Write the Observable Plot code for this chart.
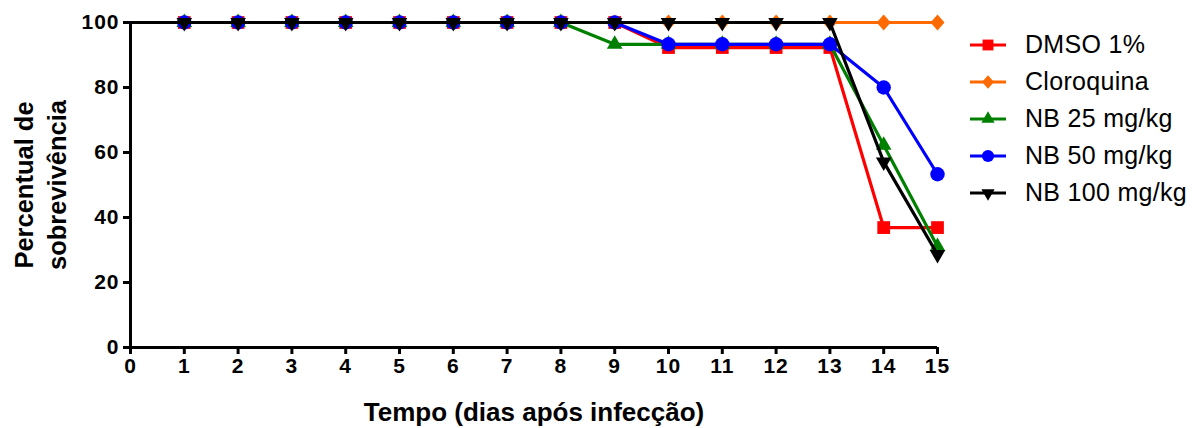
<!DOCTYPE html>
<html><head><meta charset="utf-8">
<script src="https://cdn.jsdelivr.net/npm/d3@7"></script>
<script src="https://cdn.jsdelivr.net/npm/@observablehq/plot@0.6"></script>
<style>
body{margin:0;background:#fff;font-family:"Liberation Sans",Arial,sans-serif;}
#wrap{position:relative;width:1201px;height:428px;overflow:hidden;}
#legend{position:absolute;left:970px;top:26px;}
.row{display:flex;align-items:center;height:37px;font-size:25px;letter-spacing:0.3px;color:#000;white-space:nowrap;}
.row svg{margin-right:19px;display:block}
g[aria-label="y-axis tick label"] text, g[aria-label="x-axis tick label"] text{letter-spacing:1px;}
</style></head><body><div id="wrap"></div>
<script>
// ---- data ----
const days = [0,1,2,3,4,5,6,7,8,9,10,11,12,13,14,15];
const seriesNames = ["DMSO 1%","Cloroquina","NB 25 mg/kg","NB 50 mg/kg","NB 100 mg/kg"];
const dmso       = [100,100,100,100,100,100,100,100,100,100,92.3,92.3,92.3,92.3,36.9,36.9];
const cloroquina = [100,100,100,100,100,100,100,100,100,100,100,100,100,100,100,100];
const nb25       = [100,100,100,100,100,100,100,100,100,93.3,93.3,93.3,93.3,93.3,62.2,31.1];
const nb50       = [100,100,100,100,100,100,100,100,100,100,93.3,93.3,93.3,93.3,80,53.3];
const nb100      = [100,100,100,100,100,100,100,100,100,100,100,100,100,100,57.1,28.6];
const xTicks = [0,1,2,3,4,5,6,7,8,9,10,11,12,13,14,15];
const yTicks = [0,20,40,60,80,100];
const xTitle = "Tempo (dias após infecção)";
const yTitle = "Percentual de\nsobrevivência";

// ---- styles ----
const colors = ["#ff0000","#ff6a00","#008000","#0000ff","#000000"];
const triangleDown = {draw(context, size){
  const sqrt3 = Math.sqrt(3);
  const y = -Math.sqrt(size / (sqrt3 * 3));
  context.moveTo(0, -y * 2);
  context.lineTo(-sqrt3 * y, y);
  context.lineTo(sqrt3 * y, y);
  context.closePath();
}};
const diamond = {draw(context, size){
  const a = Math.sqrt(size / 2.3), b = 1.15 * a;
  context.moveTo(0, -b);
  context.lineTo(a, 0);
  context.lineTo(0, b);
  context.lineTo(-a, 0);
  context.closePath();
}};
const symbols = [d3.symbolSquare, diamond, d3.symbolTriangle, d3.symbolCircle, triangleDown];
const radii = [7.2, 6, 5.8, 7.2, 5.8];
const allValues = [dmso, cloroquina, nb25, nb50, nb100];

const rows = [];
seriesNames.forEach((name, i) => allValues[i].forEach((v, j) => rows.push({series: name, day: days[j], value: v})));

const marks = [];
seriesNames.forEach((name, i) => {
  const data = rows.filter(d => d.series === name);
  marks.push(Plot.line(data, {x: "day", y: "value", stroke: colors[i], strokeWidth: 3.2, strokeLinejoin: "miter"}));
  marks.push(Plot.dot(data.filter(d => d.day > 0), {x: "day", y: "value", fill: colors[i], stroke: "none", symbol: symbols[i], r: radii[i]}));
});

const font = "'Liberation Sans', Arial, sans-serif";
const chart = Plot.plot({
  width: 1201, height: 428,
  marginLeft: 130, marginRight: 264, marginTop: 22, marginBottom: 81,
  style: {fontFamily: font, background: "#fff", color: "#000", overflow: "visible"},
  x: {domain: [0, 15]},
  y: {domain: [0, 100]},
  marks: [
    Plot.axisY(yTicks, {tickSize: 7, tickPadding: 4, strokeWidth: 3, fontSize: 21, fontWeight: "bold", label: null, fill: "#000"}),
    Plot.axisX(xTicks, {tickSize: 7, tickPadding: 4, strokeWidth: 3, fontSize: 21, fontWeight: "bold", label: null, fill: "#000"}),
    Plot.ruleY([0], {strokeWidth: 3, stroke: "#000"}),
    Plot.ruleX([0], {strokeWidth: 3, stroke: "#000"}),
    ...marks,
    Plot.text([xTitle], {frameAnchor: "bottom", dy: 65, fontSize: 26, fontWeight: "bold", fill: "#000", textAnchor: "middle", lineAnchor: "middle"}),
    Plot.text([yTitle], {frameAnchor: "left", rotate: -90, dx: -92, fontSize: 25.5, fontWeight: "bold", fill: "#000", textAnchor: "middle", lineAnchor: "middle", lineHeight: 1.3})
  ]
});
const wrap = document.getElementById("wrap");
wrap.appendChild(chart);

// ---- legend ----
const legend = document.createElement("div");
legend.id = "legend";
seriesNames.forEach((name, i) => {
  const row = document.createElement("div");
  row.className = "row";
  const svg = d3.create("svg").attr("width", 36).attr("height", 22);
  svg.append("line").attr("x1", 0).attr("x2", 36).attr("y1", 11).attr("y2", 11).attr("stroke", colors[i]).attr("stroke-width", 3.2);
  const rr = radii[i] * 0.85;
  svg.append("path").attr("d", d3.symbol(symbols[i], Math.PI * rr * rr)()).attr("transform", "translate(18,11)").attr("fill", colors[i]);
  row.appendChild(svg.node());
  const span = document.createElement("span");
  span.textContent = name;
  row.appendChild(span);
  legend.appendChild(row);
});
wrap.appendChild(legend);
</script></body></html>
